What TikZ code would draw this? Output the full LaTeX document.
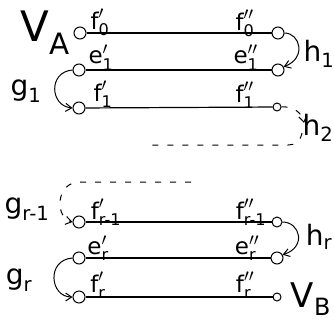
\documentclass[tikz,border=0pt]{standalone}
\usepackage{amsmath}
\usepackage{fontspec}
\setmainfont{DejaVu Sans}
\usetikzlibrary{arrows.meta}

\newcommand{\lbl}[3]{$\text{#1}^{#2}_{\text{#3}}$}

\begin{document}
\begin{tikzpicture}[x=1pt,y=-1pt,>={Straight Barb[length=6pt,width=8pt]},
  port/.style={circle,draw,line width=1pt,inner sep=0pt,minimum size=12pt},
  smallport/.style={port,minimum size=8pt},
  wire/.style={line width=1.2pt},
  hop/.style={line width=1pt,->},
  jump/.style={hop,dash pattern=on 6pt off 9pt},
  lbl/.style={inner sep=0pt,font=\fontsize{23}{26}\selectfont},
  big/.style={inner sep=0pt,font=\fontsize{28}{32}\selectfont}]
  \useasboundingbox (0,0) rectangle (334,327);
  % first block
  \node[port] (fLzero) at (80,33) {};
  \node[port] (fRzero) at (278,33) {};
  \node[port] (eLone) at (79,70) {};
  \node[port] (eRone) at (278,70) {};
  \node[port] (fLone) at (79,108) {};
  \node[smallport] (fRone) at (277,107) {};
  \draw[wire] (fLzero) -- (fRzero);
  \draw[wire] (eLone) -- (eRone);
  \draw[wire] (fLone) -- (fRone);
  % last block
  \node[port] (fLrm) at (79,222) {};
  \node[smallport,minimum size=10pt] (fRrm) at (277,222) {};
  \node[port] (eLr) at (79,258) {};
  \node[port] (eRr) at (277,258) {};
  \node[port] (fLr) at (79,297) {};
  \node[smallport] (fRr) at (277,297) {};
  \draw[wire] (fLrm) -- (fRrm);
  \draw[wire] (eLr) -- (eRr);
  \draw[wire] (fLr) -- (fRr);
  % hops between the wires
  \draw[hop] (fRzero.east) .. controls (300,33) and (307,58) .. (eRone.30);
  \draw[hop] (eLone.west) .. controls (48,72) and (50,106) .. (fLone.west);
  \draw[hop] (fRrm.east) .. controls (300,222) and (307,247) .. (eRr.30);
  \draw[hop] (eLr.west) .. controls (46,260) and (50,297) .. (fLr.west);
  \coordinate (hTip) at (304,123);
  \coordinate (hBack) at (302,133);
  \coordinate (dashL) at (150,145);
  \coordinate (dashR) at (191,182);
  \draw[jump] (fRone.east) .. controls (292,106) and (302,112) .. (hTip);
  \draw[jump,-] (hBack) .. controls (300,142) and (295,145) .. (288,145) -- (dashL);
  \draw[jump] (dashR) -- (80,182) .. controls (55,182) and (55,218) .. (fLrm.west);
  % labels
  \node[inner sep=0pt,font=\fontsize{42}{46}\selectfont] (VA) at (45,33) {$\text{V}_{\text{A}}$};
  \node[inner sep=0pt,font=\fontsize{34}{38}\selectfont] (VB) at (311,299) {$\text{V}_{\text{B}}$};
  \node[lbl] at (100,22) {\lbl{f}{\prime}{0}};
  \node[lbl] at (101,58) {\lbl{e}{\prime}{1}};
  \node[lbl] at (103,94) {\lbl{f}{\prime}{1}};
  \node[lbl] at (245,23) {\lbl{f}{\prime\prime}{0}};
  \node[lbl] at (246,58) {\lbl{e}{\prime\prime}{1}};
  \node[lbl] at (245,95) {\lbl{f}{\prime\prime}{1}};
  \node[lbl] at (106,212) {\lbl{f}{\prime}{r-1}};
  \node[lbl] at (98,248) {\lbl{e}{\prime}{r}};
  \node[lbl] at (98,285) {\lbl{f}{\prime}{r}};
  \node[lbl] at (251,212) {\lbl{f}{\prime\prime}{r-1}};
  \node[lbl] at (247,248) {\lbl{e}{\prime\prime}{r}};
  \node[lbl] at (245,285) {\lbl{f}{\prime\prime}{r}};
  \node[big] at (26,91) {$\text{g}_{\text{1}}$};
  \node[big] at (27,209) {$\text{g}_{\text{r-1}}$};
  \node[big] at (19,280) {$\text{g}_{\text{r}}$};
  \node[big] at (319,54) {$\text{h}_{\text{1}}$};
  \node[big] at (318,128) {$\text{h}_{\text{2}}$};
  \node[big] at (319,237) {$\text{h}_{\text{r}}$};
\end{tikzpicture}
\end{document}
